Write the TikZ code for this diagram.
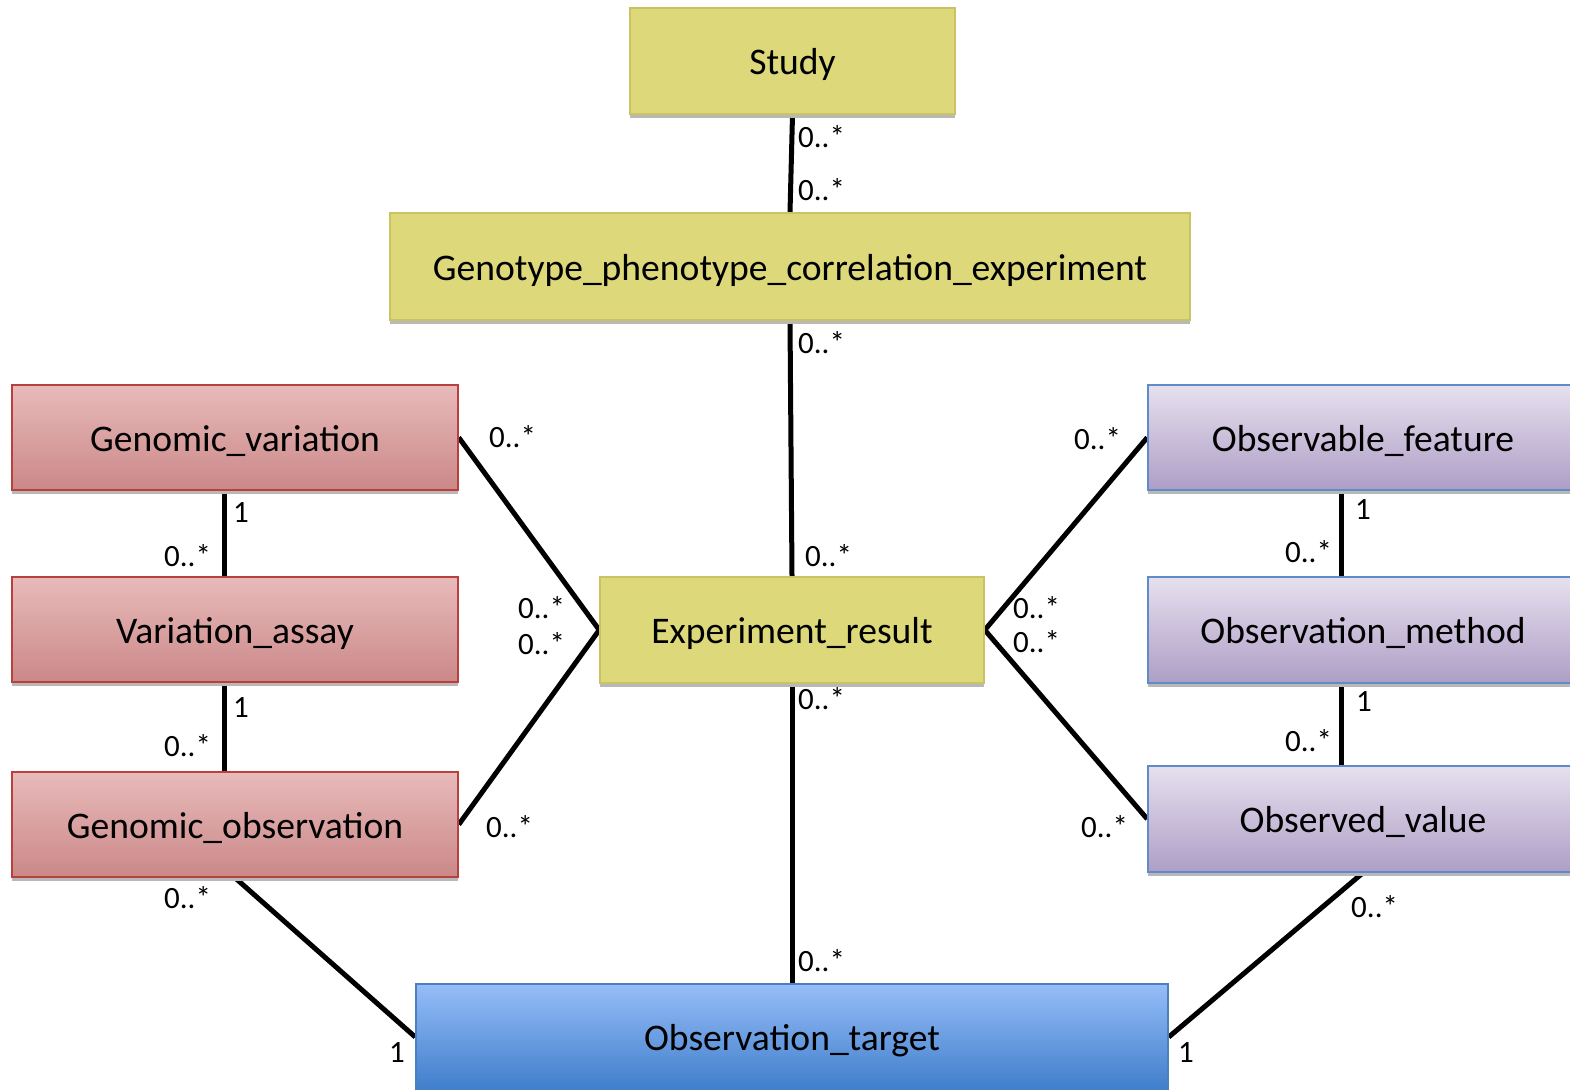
\documentclass[tikz,border=0pt]{standalone}
\usepackage{fontspec}
\setmainfont{Carlito}
\usetikzlibrary{shadows,backgrounds}

\definecolor{oliveFill}{HTML}{DDD97A}
\definecolor{oliveLine}{HTML}{C9C461}
\definecolor{redTop}{HTML}{E8BABA}
\definecolor{redBot}{HTML}{CB8888}
\definecolor{redLine}{HTML}{B8413E}
\definecolor{purTop}{HTML}{E6E0EE}
\definecolor{purBot}{HTML}{AE9EC6}
\definecolor{purLine}{HTML}{5F8BC9}
\definecolor{bluTop}{HTML}{96BDF8}
\definecolor{bluBot}{HTML}{3F7ECB}
\definecolor{bluLine}{HTML}{4B7FC0}

\tikzset{
  entity/.style={rectangle, inner sep=0pt, line width=1.5pt,
    font=\fontsize{37.6}{44}\selectfont, text height=27.5pt, text depth=0pt,
    drop shadow={shadow xshift=0pt, shadow yshift=-4pt, fill=black!28, opacity=1}},
  coreclass/.style={entity, fill=oliveFill, draw=oliveLine},
  genclass/.style={entity, top color=redTop, bottom color=redBot, draw=redLine},
  obsclass/.style={entity, top color=purTop, bottom color=purBot, draw=purLine},
  tgtclass/.style={entity, top color=bluTop, bottom color=bluBot, draw=bluLine},
  assoc/.style={line width=5pt, black},
  mult/.style={inner sep=0pt, font=\fontsize{31}{36}\selectfont,
    text height=23.5pt, text depth=0pt, anchor=west},
}

\begin{document}
\begin{tikzpicture}[x=1pt, y=-1pt]
  \useasboundingbox (0,0) rectangle (1570,1089);
  \clip (0,0) rectangle (1570,1089);

  % classes
  \node[coreclass, minimum width=325pt, minimum height=106pt] (study) at (792.5,61) {Study};
  \node[coreclass, minimum width=800pt, minimum height=107pt] (geno) at (790,266.5) {Genotype\_phenotype\_correlation\_experiment};
  \node[coreclass, minimum width=384pt, minimum height=106pt] (result) at (792,630) {Experiment\_result};

  \node[genclass, minimum width=446pt, minimum height=105pt] (gvar) at (235,437.5) {Genomic\_variation};
  \node[genclass, minimum width=446pt, minimum height=105pt] (vassay) at (235,629.5) {Variation\_assay};
  \node[genclass, minimum width=446pt, minimum height=105pt] (gobs) at (235,824.5) {Genomic\_observation};

  \node[obsclass, minimum width=430pt, minimum height=105pt] (feature) at (1363,437.5) {Observable\_feature};
  \node[obsclass, minimum width=430pt, minimum height=106pt] (method) at (1363,630) {Observation\_method};
  \node[obsclass, minimum width=430pt, minimum height=106pt] (value) at (1363,819) {Observed\_value};

  \node[tgtclass, minimum width=752pt, minimum height=106pt] (target) at (792,1037) {Observation\_target};

  % associations
  \begin{pgfonlayer}{background}
    \fill[white] (0,0) rectangle (1570,1089);
    \draw[assoc] (study.south) -- (geno.north);
    \draw[assoc] (geno.south) -- (result.north);
    \draw[assoc] (result.south) -- (target.north);
    \draw[assoc] (gvar.east) -- (result.west);
    \draw[assoc] (gobs.east) -- (result.west);
    \draw[assoc] (feature.west) -- (result.east);
    \draw[assoc] (value.west) -- (result.east);
    \draw[assoc] ([xshift=-11pt]gvar.south) -- ([xshift=-11pt]vassay.north);
    \draw[assoc] ([xshift=-11pt]vassay.south) -- ([xshift=-11pt]gobs.north);
    \draw[assoc] ([xshift=-22pt]feature.south) -- ([xshift=-22pt]method.north);
    \draw[assoc] ([xshift=-22pt]method.south) -- ([xshift=-22pt]value.north);
    \draw[assoc] (gobs.south) -- (target.west);
    \draw[assoc] (value.south) -- (target.east);
  \end{pgfonlayer}

  % multiplicities
  \node[mult] (m1) at (798,136) {0..*};
  \node[mult] (m2) at (798,189) {0..*};
  \node[mult] (m3) at (798,342) {0..*};
  \node[mult] (m4) at (805,555) {0..*};
  \node[mult] (m5) at (798,698) {0..*};
  \node[mult] (m6) at (798,960) {0..*};

  \node[mult] (m7) at (489,436) {0..*};
  \node[mult] (m8) at (518,607) {0..*};
  \node[mult] (m9) at (518,643) {0..*};
  \node[mult] (m10) at (486,826) {0..*};

  \node[mult] (m11) at (1074,438) {0..*};
  \node[mult] (m12) at (1013,607) {0..*};
  \node[mult] (m13) at (1013,641) {0..*};
  \node[mult] (m14) at (1081,826) {0..*};

  \node[mult] (m15) at (233,511) {1};
  \node[mult] (m16) at (164,555) {0..*};
  \node[mult] (m17) at (233,706) {1};
  \node[mult] (m18) at (164,745) {0..*};

  \node[mult] (m19) at (1355,508) {1};
  \node[mult] (m20) at (1285,551) {0..*};
  \node[mult] (m21) at (1356,700) {1};
  \node[mult] (m22) at (1285,740) {0..*};

  \node[mult] (m23) at (164,897) {0..*};
  \node[mult] (m24) at (389,1051) {1};
  \node[mult] (m25) at (1351,906) {0..*};
  \node[mult] (m26) at (1178,1051) {1};
\end{tikzpicture}
\end{document}
